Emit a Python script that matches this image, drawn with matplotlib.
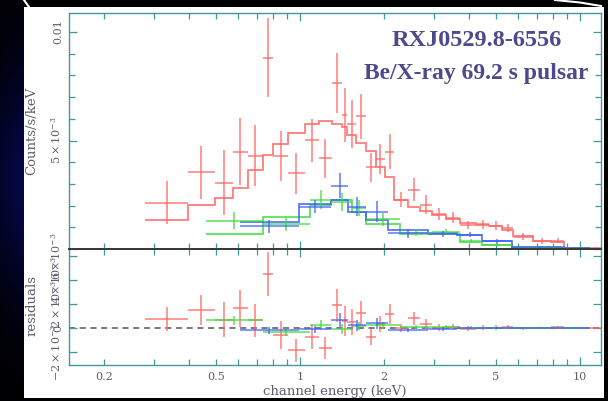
import numpy as np
import matplotlib
matplotlib.use('Agg')
import matplotlib.pyplot as plt
from matplotlib.ticker import FixedLocator, FuncFormatter
from matplotlib.patches import Rectangle

plt.rcParams['font.family'] = ['DejaVu Serif']
plt.rcParams['mathtext.fontset'] = 'dejavuserif'

# ---------------- data (counts/s/keV in units of 1e-3) ----------------
SCALE = 1e-3

red_edges = [0.280, 0.398, 0.495, 0.574, 0.653, 0.735, 0.804, 0.906, 1.038, 1.166,
             1.301, 1.413, 1.472, 1.585, 1.714, 1.861, 2.012, 2.175, 2.431, 2.672,
             2.949, 3.322, 3.728, 4.252, 4.732, 5.266, 5.763, 6.767, 7.846, 8.803,
             10.51, 12.29]
red_data = [2.13, 3.53, 3.06, 4.48, 4.30, 8.82, 4.30, 3.49, 5.01, 4.19,
            7.64, 6.18, 5.76, 6.12, 3.76, 4.13, 4.48, 2.28, 2.74, 2.05,
            1.61, 1.45, 1.11, 1.13, 1.08, 0.97, 0.57, 0.37, 0.38, 0.03, 0.02]
red_err = [1.00, 1.23, 1.48, 1.54, 1.40, 1.82, 1.15, 0.95, 1.00, 0.90,
           1.38, 1.23, 1.11, 1.04, 0.66, 0.69, 0.81, 0.35, 0.52, 0.42,
           0.28, 0.25, 0.20, 0.20, 0.20, 0.18, 0.15, 0.12, 0.12, 0.05, 0.05]
red_model = [1.34, 2.03, 2.37, 2.82, 3.66, 4.33, 4.86, 5.35, 5.76, 5.88,
             5.76, 5.60, 5.25, 4.87, 4.52, 3.80, 3.33, 2.28, 1.94, 1.75,
             1.57, 1.36, 1.18, 1.11, 1.04, 0.88, 0.60, 0.37, 0.31, 0.05, 0.03]

green_edges = [0.4615, 0.7349, 1.0857, 1.2906, 1.5336, 1.7207, 2.2758, 2.9613,
               3.7276, 4.4668, 5.7191, 8.4834, 10.857]
green_data = [1.31, 1.15, 2.28, 2.17, 1.89, 1.38, 0.75, 0.78, 0.37, 0.20, 0.07, 0.03]
green_err = [0.40, 0.30, 0.42, 0.42, 0.35, 0.30, 0.15, 0.15, 0.10, 0.08, 0.05, 0.03]
green_model = [0.68, 1.49, 2.05, 2.24, 1.70, 1.15, 0.69, 0.69, 0.34, 0.18, 0.07, 0.03]

blue_edges = [0.6105, 0.9878, 1.2906, 1.4836, 1.7207, 2.0622, 2.8659, 3.6367,
              4.4668, 5.7191, 8.8393, 10.857]
blue_data = [1.04, 1.95, 2.92, 1.95, 1.72, 0.72, 0.69, 0.65, 0.38, 0.07, 0.03]
blue_err = [0.30, 0.30, 0.59, 0.45, 0.48, 0.20, 0.15, 0.12, 0.10, 0.05, 0.03]
blue_model = [1.24, 2.06, 2.26, 1.72, 1.34, 0.88, 0.75, 0.65, 0.38, 0.06, 0.03]

x_major = [1, 10]
x_minor = [0.2, 0.3, 0.4, 0.5, 0.6, 0.7, 0.8, 0.9, 2, 3, 4, 5, 6, 7, 8, 9]
x_labeled_minor = [0.2, 0.5, 2, 5]
top_major = [0.0, 5e-3, 0.01]
top_major_labels = ['', r'$5\times10^{-3}$', '0.01']
res_major = [-2e-3, 0.0, 2e-3, 4e-3, 6e-3]
res_major_labels = [r'$-2\times10^{-3}$', '0', r'$2\times10^{-3}$',
                    r'$4\times10^{-3}$', r'$6\times10^{-3}$']

title1 = 'RXJ0529.8-6556'
title2 = 'Be/X-ray 69.2 s pulsar'

# ---------------- figure ----------------
W, H = 608, 401
fig = plt.figure(figsize=(W / 100, H / 100), dpi=100)
fig.patch.set_facecolor('black')

# background axes in pixel coordinates (y down)
bg = fig.add_axes([0, 0, 1, 1], zorder=-10)
bg.axis('off')
yy = np.linspace(0, 1, 200)[:, None]
xx = np.linspace(0, 1, 24)[None, :]
glow = np.exp(-((yy - 0.45) / 0.3) ** 2) * (0.6 + 0.4 * xx)
img = np.zeros((200, 24, 3))
img[..., 0] = 0.02 * glow
img[..., 1] = 0.03 * glow
img[..., 2] = 0.28 * glow
bg.imshow(img, aspect='auto', extent=[0, 24, H, 0], zorder=0)
bg.add_patch(Rectangle((24, 7), 580, 391, facecolor='white', edgecolor='none', zorder=1))
bg.plot([24, 29], [0, 7], color='white', lw=1.5, zorder=2)
bg.plot([555, 580, 601], [0, 2.5, 6], color='white', lw=1.5, zorder=2)
bg.set_xlim(0, W)
bg.set_ylim(H, 0)


def fx(px):
    return px / W


def fy(py):
    return 1 - py / H


L, R = 69, 601
T1, B1, B2 = 13, 249, 365
ax = fig.add_axes([fx(L), fy(B1), fx(R) - fx(L), fy(T1) - fy(B1)], zorder=1)
rax = fig.add_axes([fx(L), fy(B2), fx(R) - fx(L), fy(B1) - fy(B2)], sharex=ax, zorder=1)
for a in (ax, rax):
    a.set_facecolor('none')

SPINE = '#3f9a9a'
DARK = '#3a3a3a'
TXT = '#5e5e6e'

series = [
    (red_edges, red_data, red_err, red_model, '#ff6666'),
    (green_edges, green_data, green_err, green_model, '#3fdc3f'),
    (blue_edges, blue_data, blue_err, blue_model, '#4060ff'),
]

for edges, data, err, model, col in series:
    e = np.array(edges)
    lo, hi = e[:-1], e[1:]
    xc = np.sqrt(lo * hi)
    d = np.array(data) * SCALE
    s = np.array(err) * SCALE
    m = np.array(model) * SCALE
    ax.errorbar(xc, d, xerr=[xc - lo, hi - xc], yerr=s, fmt='none', ecolor=col,
                elinewidth=1.1, capsize=0, alpha=0.85)
    ax.stairs(m, e, baseline=None, color=col, lw=1.3, alpha=0.85)
    rax.errorbar(xc, d - m, xerr=[xc - lo, hi - xc], yerr=s, fmt='none', ecolor=col,
                 elinewidth=1.1, capsize=0, alpha=0.85)

rax.axhline(0, color='#555555', lw=1.1, ls=(0, (4, 3)), zorder=0.5)

ax.set_xscale('log')
ax.set_xlim(0.1496, 11.885)
ax.set_ylim(0, 10.876e-3)
rax.set_ylim(-3.083e-3, 6.583e-3)

for a in (ax, rax):
    a.xaxis.set_major_locator(FixedLocator(x_major))
    a.xaxis.set_minor_locator(FixedLocator(x_minor))
    a.tick_params(which='both', direction='in', top=True, right=True,
                  color=SPINE, labelcolor=TXT, labelsize=8)
    a.tick_params(which='major', length=6, width=0.9)
    a.tick_params(which='minor', length=4, width=0.9)
    for sp in a.spines.values():
        sp.set_color(SPINE)
        sp.set_linewidth(1.0)

ax.spines['bottom'].set_color(DARK)
ax.spines['bottom'].set_linewidth(1.4)
rax.spines['top'].set_color(DARK)
rax.spines['top'].set_linewidth(1.4)

ax.tick_params(which='both', labelbottom=False)
rax.xaxis.set_major_formatter(FuncFormatter(lambda v, p: '%g' % v))
rax.xaxis.set_minor_formatter(FuncFormatter(
    lambda v, p: ('%g' % v) if any(abs(v - q) < 1e-9 for q in x_labeled_minor) else ''))
rax.tick_params(which='both', axis='x', pad=5)

ax.yaxis.set_major_locator(FixedLocator(top_major))
ax.yaxis.set_minor_locator(FixedLocator([i * 1e-3 for i in range(0, 11)]))
ax.set_yticklabels(top_major_labels)
rax.yaxis.set_major_locator(FixedLocator(res_major))
rax.set_yticklabels(res_major_labels)
for a in (ax, rax):
    for lab in a.get_yticklabels():
        lab.set_rotation(90)
        lab.set_va('center')
    a.tick_params(axis='y', pad=4)

ax.set_ylabel('Counts/s/keV', color=TXT, fontsize=9.5, va='center')
ax.yaxis.set_label_coords((32 - L) / (R - L), 0.5)
rax.set_ylabel('residuals', color=TXT, fontsize=9.5, va='center')
rax.yaxis.set_label_coords((32 - L) / (R - L), (B2 - 306) / (B2 - B1))
rax.set_xlabel('channel energy (keV)', color=TXT, fontsize=9.5)
rax.xaxis.set_label_coords(0.5, (B2 - 391) / (B2 - B1))
rax.xaxis.label.set_va('center')

fig.text(fx(477), fy(40), title1, ha='center', va='center', color='#4b4b8c',
         fontsize=17.5, fontweight='bold', family='Liberation Serif', zorder=5)
fig.text(fx(476), fy(74), title2, ha='center', va='center', color='#4b4b8c',
         fontsize=17, fontweight='bold', family='Liberation Serif', zorder=5)

fig.savefig('out.png', dpi=100, facecolor=fig.get_facecolor())
